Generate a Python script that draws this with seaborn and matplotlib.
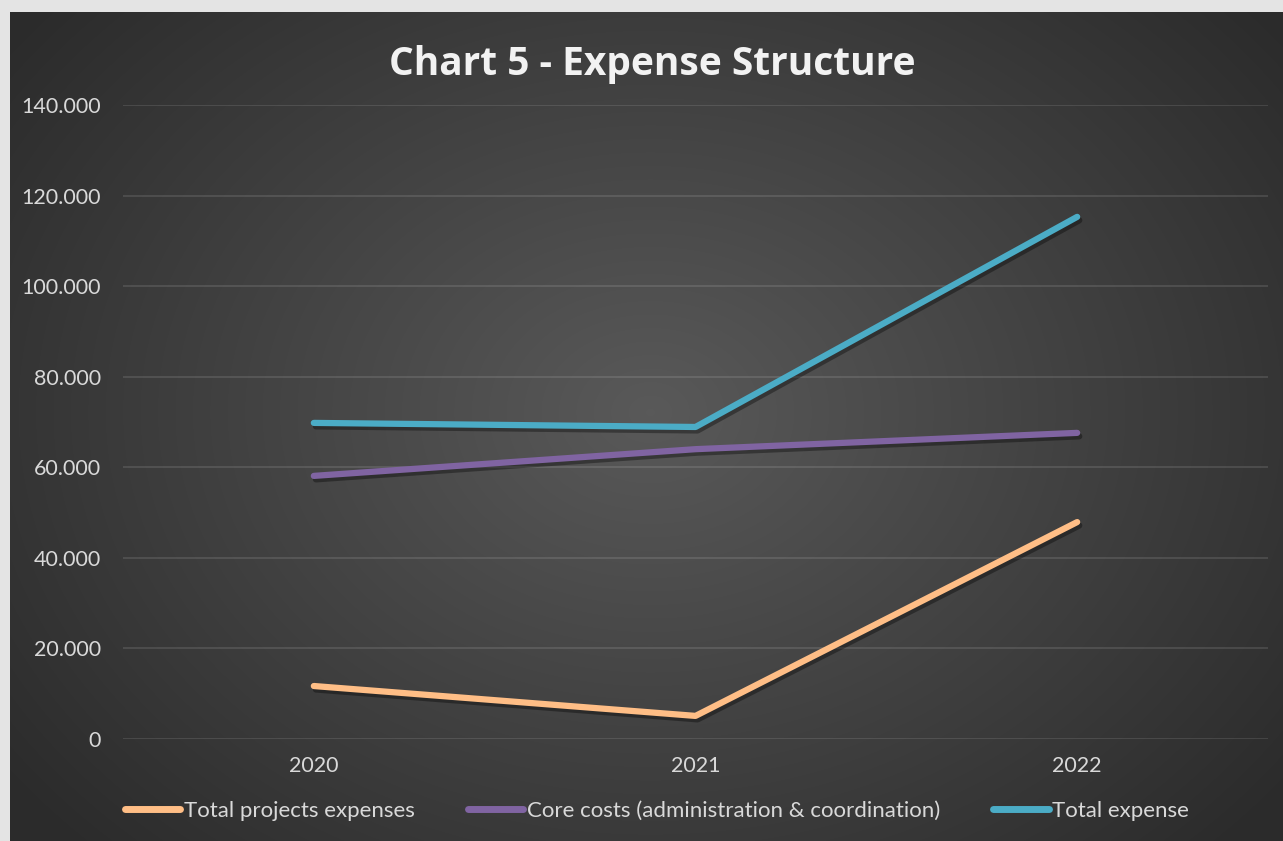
## [--Grafico de linhas: Expense Structure--] ##

## Importacoes
import numpy as np
import pandas as pd
import seaborn as sns
import matplotlib.pyplot as plt
import matplotlib.patheffects as pe
from matplotlib.ticker import FuncFormatter

## Dados
anos = ['2020', '2021', '2022']
projetos = [11700, 5100, 47900]
core = [58100, 64000, 67600]
total = [69800, 68900, 115300]
series = ['Total projects expenses',
          'Core costs (administration & coordination)',
          'Total expense']
cores = ['#FFBE86', '#8064A2', '#4BACC6']

df = pd.DataFrame({
    'Ano': anos * 3,
    'Valor': projetos + core + total,
    'Serie': [series[0]] * 3 + [series[1]] * 3 + [series[2]] * 3,
})

## Estilo
sns.set_style('dark')
plt.rcParams['font.family'] = ['Lato', 'DejaVu Sans']
txt = '#D9D9D9'

fig = plt.figure(figsize = (12.83, 8.41), dpi = 100)
fig.patch.set_facecolor('#E4E4E4')

# Fundo com gradiente radial
bg = fig.add_axes([10 / 1283, 0, 1 - 10 / 1283, 1 - 12 / 841])
yy, xx = np.mgrid[0:829, 0:1273]
r = np.sqrt(((xx - 640) / 800) ** 2 + ((yy - 400) / 620) ** 2)
r = np.clip(r, 0, 1)
shade = 0.35 - 0.18 * r
img = np.dstack([shade, shade, shade])
bg.imshow(img, aspect = 'auto', extent = [0, 1, 0, 1], zorder = 0)
bg.set_axis_off()

# Eixo principal
ax = fig.add_axes([123 / 1283, 1 - 739 / 841, (1268 - 123) / 1283, (739 - 105) / 841])
ax.set_facecolor('none')

sns.lineplot(data = df, x = 'Ano', y = 'Valor', hue = 'Serie',
             palette = cores, linewidth = 4.5, sort = False, ax = ax,
             legend = False)

sombra = [pe.SimpleLineShadow(offset = (1.5, -2.5), shadow_color = 'black', alpha = 0.35),
          pe.Normal()]
for linha in ax.get_lines():
    linha.set_solid_capstyle('round')
    linha.set_path_effects(sombra)

# Eixos
ax.set_xlim(-0.5, 2.5)
ax.set_ylim(0, 140000)
ax.set_yticks(np.arange(0, 140001, 20000))
ax.yaxis.set_major_formatter(FuncFormatter(lambda v, p: f'{int(v):,}'.replace(',', '.')))
ax.grid(axis = 'y', color = 'white', alpha = 0.13, linewidth = 1.2)
ax.grid(axis = 'x', visible = False)
ax.tick_params(axis = 'both', colors = txt, labelsize = 15.5, length = 0)
ax.tick_params(axis = 'y', pad = 16)
ax.tick_params(axis = 'x', pad = 12)
ax.set_xlabel('')
ax.set_ylabel('')
for s in ax.spines.values():
    s.set_visible(False)

# Titulo
fig.text(0.508, 1 - 64 / 841, 'Chart 5 - Expense Structure', color = '#F2F2F2',
         fontsize = 28, fontweight = 'bold', ha = 'center', va = 'center',
         family = ['Open Sans', 'DejaVu Sans'])

# Legenda
handles = [plt.Line2D([], [], color = c, linewidth = 5, solid_capstyle = 'round') for c in cores]
leg = fig.legend(handles, series, loc = 'center', bbox_to_anchor = (0.512, 1 - 811 / 841),
                 ncol = 3, frameon = False, fontsize = 16, handlelength = 2.5,
                 handletextpad = 0.15, columnspacing = 2.4)
for t in leg.get_texts():
    t.set_color(txt)

# Salvando
plt.savefig('out.png', dpi = 100)
